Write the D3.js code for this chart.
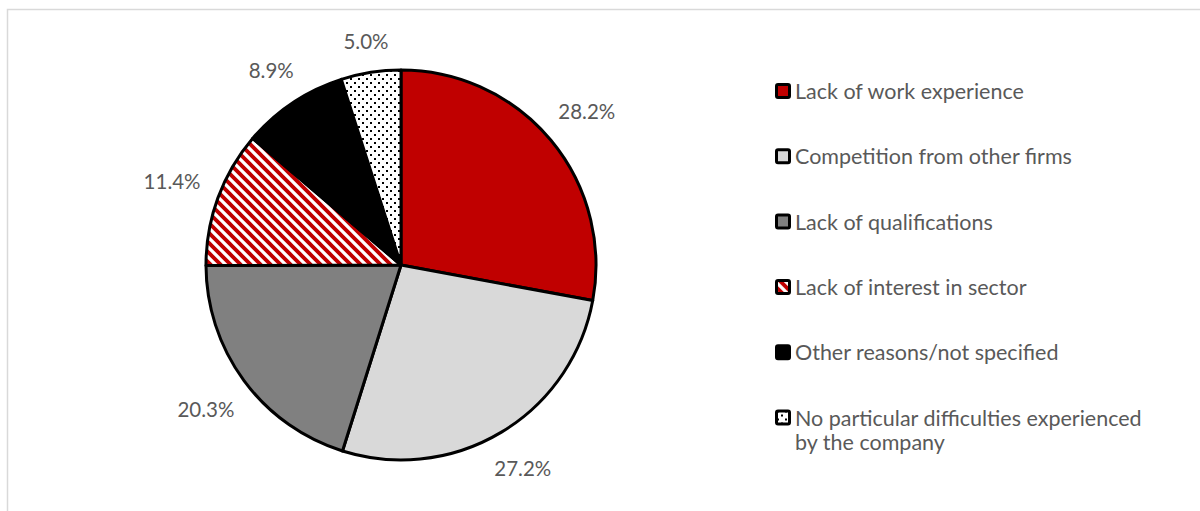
<!DOCTYPE html>
<html>
<head>
<meta charset="utf-8">
<script src="https://cdn.jsdelivr.net/npm/d3@7"></script>
<style>
  html, body { margin: 0; padding: 0; background: #fff; }
  svg { display: block; }
  text { font-family: Lato, "Open Sans", sans-serif; fill: #595959; }
</style>
</head>
<body>
<svg id="chart" width="1200" height="511"></svg>
<script>
// Reasons for recruitment difficulties (share of companies, %)
const categories = [
  "Lack of work experience",
  "Competition from other firms",
  "Lack of qualifications",
  "Lack of interest in sector",
  "Other reasons/not specified",
  "No particular difficulties experienced by the company"
];
const shares = [28.2, 27.2, 20.3, 11.4, 8.9, 5.0];
const fills = ["#C00000", "#D9D9D9", "#808080", "url(#stripes)", "#000000", "url(#dots)"];

const W = 1200, H = 511;
const cx = 401, cy = 265, R = 195;
const labelFont = 20.5, legendFont = 21.5;

const svg = d3.select("#chart");
const defs = svg.append("defs");

// red/white downward diagonal stripes
const stripes = defs.append("pattern")
  .attr("id", "stripes").attr("patternUnits", "userSpaceOnUse")
  .attr("width", 10).attr("height", 10);
stripes.append("rect").attr("width", 10).attr("height", 10).attr("fill", "#fff");
stripes.append("path")
  .attr("d", "M-5,5 L5,15 M0,0 L10,10 M5,-5 L15,5")
  .attr("stroke", "#C00000").attr("stroke-width", 3.8);

// small black dots on white
const dots = defs.append("pattern")
  .attr("id", "dots").attr("patternUnits", "userSpaceOnUse")
  .attr("width", 8).attr("height", 8);
dots.append("rect").attr("width", 8).attr("height", 8).attr("fill", "#fff");
dots.append("rect").attr("x", 1).attr("y", 1).attr("width", 2).attr("height", 2).attr("fill", "#000");
dots.append("rect").attr("x", 5).attr("y", 5).attr("width", 2).attr("height", 2).attr("fill", "#000");

// chart area frame
svg.append("rect")
  .attr("x", 7.5).attr("y", 9.5).attr("width", W).attr("height", H)
  .attr("fill", "none").attr("stroke", "#D9D9D9").attr("stroke-width", 1.5);

const color = d3.scaleOrdinal().domain(categories).range(fills);

const pie = d3.pie().sort(null).value(d => d.value);
const data = categories.map((c, i) => ({ name: c, value: shares[i] }));
const arcs = pie(data);
const arc = d3.arc().innerRadius(0).outerRadius(R);

const g = svg.append("g").attr("transform", `translate(${cx},${cy})`);
g.selectAll("path.slice")
  .data(arcs)
  .join("path")
  .attr("class", "slice")
  .attr("d", arc)
  .attr("fill", d => color(d.data.name))
  .attr("stroke", "#000")
  .attr("stroke-width", 3)
  .attr("stroke-linejoin", "round");

// percentage labels just outside the rim, along each slice's mid-angle
const fmt = d3.format(".1f");
const gap = 19;
g.selectAll("text.pct")
  .data(arcs)
  .join("text")
  .attr("class", "pct")
  .attr("font-size", labelFont)
  .attr("text-anchor", "middle")
  .attr("dominant-baseline", "central")
  .text(d => fmt(d.data.value) + "%")
  .each(function(d) {
    const bb = this.getBBox();
    const a = (d.startAngle + d.endAngle) / 2;
    const ux = Math.sin(a), uy = -Math.cos(a);
    const ext = Math.abs(ux) * bb.width / 2 + Math.abs(uy) * bb.height / 2 * 0.75;
    const r = R + gap + ext;
    d3.select(this).attr("x", ux * r).attr("y", uy * r);
  });

// legend
const legX = 776, legY0 = 91, legStep = 65.3, maxW = 362;
const leg = svg.append("g");
const items = leg.selectAll("g.item")
  .data(categories)
  .join("g")
  .attr("class", "item")
  .attr("transform", (d, i) => `translate(${legX},${legY0 + i * legStep})`);

items.append("rect")
  .attr("x", 0.5).attr("y", -6.5).attr("width", 13).attr("height", 13)
  .attr("rx", 1.5)
  .attr("fill", d => color(d))
  .attr("stroke", "#000").attr("stroke-width", 3);

items.append("text")
  .attr("x", 19)
  .attr("y", 0)
  .attr("font-size", legendFont)
  .attr("dominant-baseline", "central")
  .each(function(d) {
    const t = d3.select(this);
    const words = d.split(" ");
    let line = [];
    let tspan = t.append("tspan").attr("x", 19).attr("dy", 0);
    for (const w of words) {
      line.push(w);
      tspan.text(line.join(" "));
      if (tspan.node().getComputedTextLength() > maxW && line.length > 1) {
        line.pop();
        tspan.text(line.join(" "));
        line = [w];
        tspan = t.append("tspan").attr("x", 19).attr("dy", 24).text(w);
      }
    }
  });
</script>
</body>
</html>
